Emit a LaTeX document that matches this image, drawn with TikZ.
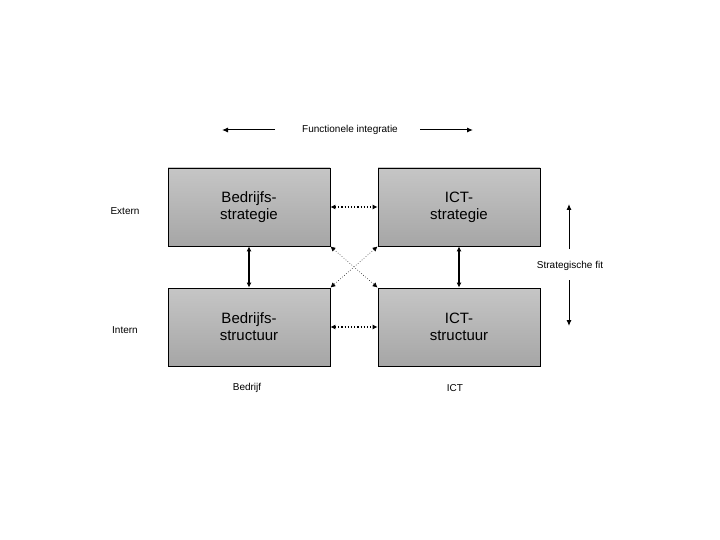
\documentclass[tikz,border=0pt]{standalone}
\usepackage{fontspec}
\setmainfont{Liberation Sans}
\usetikzlibrary{arrows.meta}
\begin{document}
\begin{tikzpicture}[x=1pt,y=-1pt,
 box/.style={draw=black,line width=0.8pt,top color=gray!45,bottom color=gray!70,minimum width=162pt,minimum height=78pt,align=center,font=\fontsize{15}{17}\selectfont,inner sep=0pt},
 lbl/.style={font=\fontsize{10}{12}\selectfont,inner sep=0pt},
 dbl/.style={{Latex[length=5pt,width=5pt]}-{Latex[length=5pt,width=5pt]}},
 ]
\useasboundingbox (0,0) rectangle (720,540);
\node[box] (bs) at (249,207) {Bedrijfs-\\strategie};
\node[box] (is) at (459,207) {ICT-\\strategie};
\node[box] (bt) at (249,327) {Bedrijfs-\\structuur};
\node[box] (it) at (459,327) {ICT-\\structuur};
\node[lbl] (fi) at (350,130) {Functionele integratie};
\coordinate (a1) at (222,130); \coordinate (a2) at (275,130);
\coordinate (a3) at (420,130); \coordinate (a4) at (473,130);
\draw[-{Latex[length=6pt,width=5pt]},line width=1pt] (a2) -- (a1);
\draw[-{Latex[length=6pt,width=5pt]},line width=1pt] (a3) -- (a4);
\node[lbl] (ex) at (125,211) {Extern};
\node[lbl] (in) at (125,330) {Intern};
\node[lbl] (bd) at (247,388) {Bedrijf};
\node[lbl] (ic) at (455,388) {ICT};
\node[lbl] (sf) at (570,266) {Strategische fit};
\coordinate (s1) at (569,204); \coordinate (s2) at (569,249);
\coordinate (s3) at (569,280); \coordinate (s4) at (569,326);
\draw[-{Latex[length=6pt,width=5pt]},line width=1pt] (s2) -- (s1);
\draw[-{Latex[length=6pt,width=5pt]},line width=1pt] (s3) -- (s4);
\draw[dbl,line width=1.2pt] (bs) -- (bt);
\draw[dbl,line width=1.2pt] (is) -- (it);
\draw[dbl,line width=1.2pt,dotted] (bs) -- (is);
\draw[dbl,line width=1.2pt,dotted] (bt) -- (it);
\draw[dbl,line width=0.6pt,dotted] (bs.south east) -- (it.north west);
\draw[dbl,line width=0.6pt,dotted] (is.south west) -- (bt.north east);
\end{tikzpicture}
\end{document}
